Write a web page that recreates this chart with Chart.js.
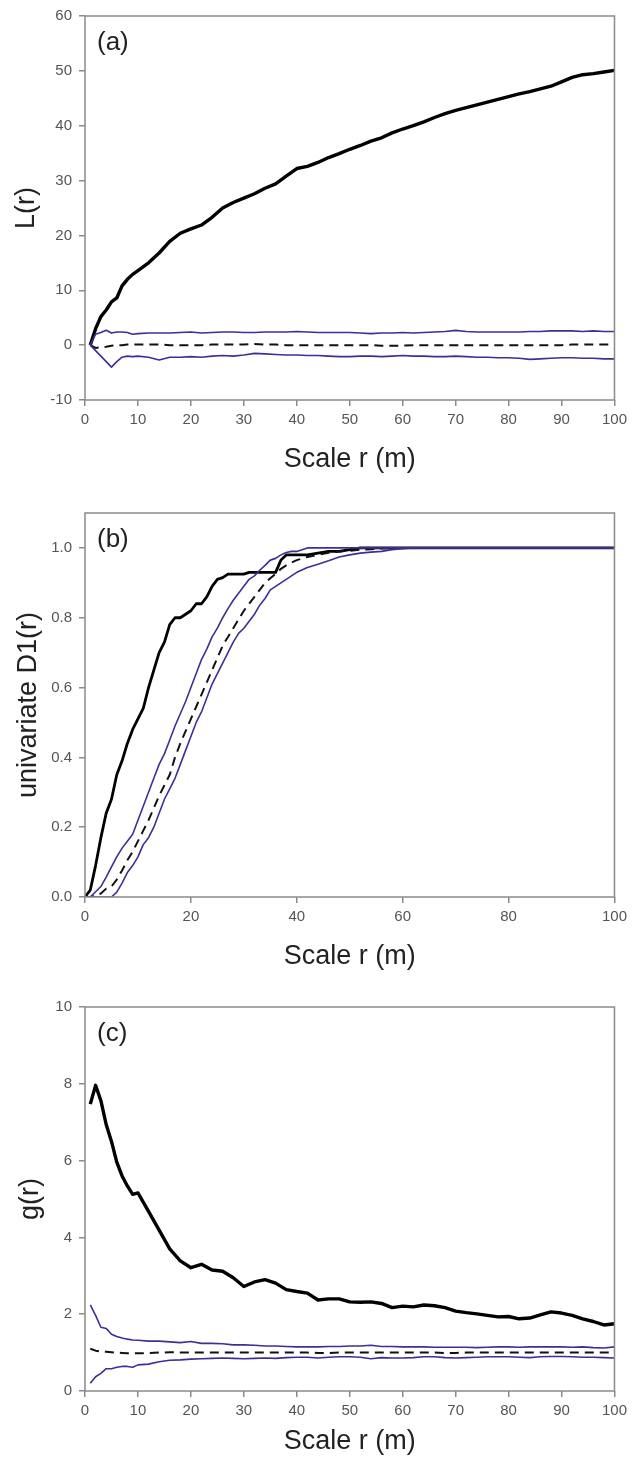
<!DOCTYPE html>
<html>
<head>
<meta charset="utf-8">
<script src="https://cdn.jsdelivr.net/npm/chart.js@4.4.0/dist/chart.umd.min.js"></script>
<style>
  body { margin: 0; background: #fff; }
  .panel { position: absolute; left: 0; width: 632px; }
</style>
</head>
<body>
<div class="panel" style="top:0;height:490px"><canvas id="chartA"></canvas></div>
<div class="panel" style="top:490px;height:490px"><canvas id="chartB"></canvas></div>
<div class="panel" style="top:980px;height:484px"><canvas id="chartC"></canvas></div>
<script>
// (a) L(r)  -- r grid shared by the 4 lines
const rA = [1, 2, 3, 4, 5, 6, 7, 8, 9, 10, 12, 14, 16, 18, 20, 22, 24, 26, 28, 30, 32, 34, 36, 38, 40, 42, 44, 46, 48, 50,
  52, 54, 56, 58, 60, 62, 64, 66, 68, 70, 72, 74, 76, 78, 80, 82, 84, 86, 88, 90, 92, 94, 96, 98, 100];
const lObs = [0, 3.0, 5.2, 6.4, 7.9, 8.6, 10.8, 12.0, 12.9, 13.6, 15.0, 16.8, 18.9, 20.4, 21.2, 21.9, 23.3, 25.0, 26.0, 26.8,
  27.6, 28.6, 29.4, 30.8, 32.2, 32.6, 33.3, 34.2, 34.9, 35.7, 36.4, 37.2, 37.8, 38.7, 39.4, 40.0, 40.7, 41.5, 42.2, 42.8,
  43.3, 43.8, 44.3, 44.8, 45.3, 45.8, 46.2, 46.7, 47.2, 48.0, 48.8, 49.3, 49.5, 49.8, 50.1];
const lUp = [0, 2.0, 2.3, 2.7, 2.2, 2.4, 2.4, 2.3, 2.0, 2.1, 2.2, 2.2, 2.2, 2.3, 2.4, 2.2, 2.3, 2.4, 2.4, 2.3,
  2.3, 2.4, 2.4, 2.4, 2.5, 2.4, 2.3, 2.3, 2.3, 2.3, 2.2, 2.1, 2.2, 2.2, 2.3, 2.2, 2.3, 2.4, 2.5, 2.7,
  2.5, 2.4, 2.4, 2.4, 2.4, 2.4, 2.5, 2.5, 2.6, 2.6, 2.6, 2.5, 2.6, 2.5, 2.5];
const lLo = [0, -1.0, -2.0, -3.0, -4.0, -3.0, -2.2, -2.0, -2.1, -2.0, -2.2, -2.7, -2.2, -2.2, -2.1, -2.2, -2.0, -1.9, -2.0, -1.8,
  -1.5, -1.6, -1.7, -1.8, -1.8, -1.9, -1.9, -2.0, -2.1, -2.1, -2.0, -2.0, -2.1, -2.0, -1.9, -2.0, -2.0, -2.1, -2.1, -2.0,
  -2.1, -2.2, -2.2, -2.3, -2.3, -2.4, -2.6, -2.5, -2.4, -2.3, -2.3, -2.4, -2.4, -2.5, -2.5];
const lMean = [0, -0.5, -0.4, -0.3, -0.1, 0, 0, 0.1, 0.1, 0.1, 0.1, 0.1, 0, 0, 0, 0, 0.1, 0.1, 0.1, 0.1,
  0.2, 0.1, 0.1, 0, 0, 0, 0, 0, 0, 0, 0, 0, -0.1, -0.1, -0.1, 0, 0, 0, 0, 0,
  0, 0, 0, 0, 0, 0, 0, 0, 0, 0, 0.1, 0.1, 0.1, 0.1, 0.1];

// (b) univariate D1(r)
const rB = [0, 1, 2, 3, 4, 5, 6, 7, 8, 9, 10, 11, 12, 13, 14, 15, 16, 17, 18, 19, 20, 21, 22, 23, 24, 25, 26, 27, 28, 29,
  30, 31, 32, 33, 34, 35, 36, 37, 38, 39, 40, 42, 44, 46, 48, 50, 52, 54, 56, 58, 60, 62, 70, 80, 90, 100];
const dObs = [0, 0.02, 0.09, 0.17, 0.24, 0.28, 0.35, 0.39, 0.44, 0.48, 0.51, 0.54, 0.60, 0.65, 0.70, 0.73, 0.78, 0.80, 0.80, 0.81,
  0.82, 0.84, 0.84, 0.86, 0.89, 0.91, 0.915, 0.925, 0.925, 0.925, 0.925, 0.93, 0.93, 0.93, 0.93, 0.93, 0.93, 0.965, 0.98, 0.98,
  0.98, 0.98, 0.985, 0.99, 0.99, 0.995, 1, 1, 1, 1, 1, 1, 1, 1, 1, 1];
const dUp = [0, 0, 0.015, 0.03, 0.057, 0.086, 0.115, 0.14, 0.16, 0.18, 0.22, 0.26, 0.30, 0.34, 0.38, 0.41, 0.45, 0.49, 0.525, 0.56,
  0.60, 0.64, 0.68, 0.71, 0.745, 0.77, 0.80, 0.826, 0.85, 0.87, 0.89, 0.91, 0.92, 0.936, 0.95, 0.965, 0.97, 0.98, 0.987, 0.99,
  0.99, 1, 1, 1, 1, 1, 1, 1, 1, 1, 1, 1, 1, 1, 1, 1];
const dMean = [0, 0, 0.005, 0.01, 0.024, 0.03, 0.05, 0.076, 0.105, 0.13, 0.16, 0.19, 0.22, 0.255, 0.29, 0.32, 0.35, 0.40, 0.44, 0.475,
  0.51, 0.545, 0.58, 0.615, 0.65, 0.685, 0.72, 0.745, 0.77, 0.795, 0.82, 0.84, 0.86, 0.88, 0.90, 0.913, 0.926, 0.94, 0.95, 0.958,
  0.965, 0.974, 0.98, 0.986, 0.99, 0.992, 0.995, 0.996, 0.998, 0.999, 1, 1, 1, 1, 1, 1];
const dLo = [0, 0, 0, 0, 0, 0, 0.014, 0.04, 0.07, 0.09, 0.115, 0.15, 0.17, 0.20, 0.24, 0.28, 0.31, 0.34, 0.38, 0.42,
  0.46, 0.50, 0.53, 0.57, 0.61, 0.64, 0.67, 0.70, 0.73, 0.755, 0.77, 0.79, 0.81, 0.836, 0.855, 0.88, 0.89, 0.90, 0.91, 0.92,
  0.93, 0.944, 0.953, 0.963, 0.974, 0.98, 0.985, 0.988, 0.99, 0.995, 0.998, 1, 1, 1, 1, 1];

// (c) g(r)
const rC = rA;
const gObs = [7.47, 7.96, 7.56, 6.94, 6.5, 5.96, 5.6, 5.34, 5.12, 5.16, 4.68, 4.19, 3.7, 3.39, 3.21, 3.3, 3.15, 3.12, 2.95, 2.72,
  2.84, 2.90, 2.81, 2.64, 2.59, 2.55, 2.37, 2.40, 2.40, 2.32, 2.31, 2.32, 2.28, 2.17, 2.21, 2.19, 2.24, 2.22, 2.17, 2.08,
  2.04, 2.01, 1.97, 1.93, 1.94, 1.88, 1.90, 1.98, 2.06, 2.03, 1.97, 1.88, 1.81, 1.72, 1.75];
const gUp = [2.24, 1.97, 1.66, 1.63, 1.48, 1.42, 1.38, 1.35, 1.33, 1.32, 1.30, 1.30, 1.28, 1.26, 1.29, 1.24, 1.24, 1.23, 1.20, 1.20,
  1.19, 1.17, 1.17, 1.16, 1.15, 1.15, 1.15, 1.16, 1.16, 1.17, 1.17, 1.19, 1.16, 1.16, 1.15, 1.15, 1.15, 1.14, 1.14, 1.14,
  1.14, 1.13, 1.14, 1.15, 1.15, 1.14, 1.15, 1.15, 1.15, 1.15, 1.14, 1.15, 1.13, 1.12, 1.15];
const gMean = [1.10, 1.05, 1.03, 1.02, 1.01, 1.0, 0.99, 0.98, 0.98, 0.98, 0.99, 1.0, 1.01, 1.0, 1.0, 1.0, 1.0, 1.0, 1.0, 1.0,
  1.0, 1.0, 1.0, 1.0, 1.0, 1.0, 0.99, 0.99, 1.0, 1.0, 1.0, 1.0, 1.0, 1.0, 1.0, 1.0, 1.0, 1.0, 0.99, 0.99,
  1.0, 1.0, 1.0, 1.0, 1.0, 1.0, 1.0, 1.0, 1.0, 1.0, 1.0, 1.0, 1.0, 1.0, 1.0];
const gLo = [0.2, 0.37, 0.46, 0.58, 0.58, 0.62, 0.64, 0.64, 0.62, 0.68, 0.70, 0.76, 0.80, 0.81, 0.83, 0.84, 0.85, 0.86, 0.85, 0.84,
  0.85, 0.86, 0.85, 0.87, 0.88, 0.88, 0.86, 0.88, 0.89, 0.89, 0.88, 0.84, 0.87, 0.86, 0.86, 0.87, 0.89, 0.89, 0.87, 0.86,
  0.87, 0.88, 0.89, 0.89, 0.89, 0.88, 0.87, 0.89, 0.90, 0.90, 0.89, 0.88, 0.88, 0.87, 0.86];

const BLUE = '#3f2e96';
const AXIS = '#8a8a8a';
const TICK_TXT = '#555';
const TITLE_TXT = '#222';
Chart.defaults.font.family = '"Liberation Sans", Arial, sans-serif';

function pts(xs, ys) {
  return xs.map((x, i) => ({ x: x, y: ys[i] }));
}

function line(xs, ys, color, width, dash) {
  return {
    data: pts(xs, ys),
    borderColor: color,
    borderWidth: width,
    borderDash: dash || [],
    pointRadius: 0,
    tension: 0,
    fill: false,
    borderJoinStyle: 'round'
  };
}

// box around the plot + the panel letter
const framePlugin = {
  id: 'frame',
  afterDraw(chart, args, opts) {
    const { ctx, chartArea: a } = chart;
    ctx.save();
    ctx.strokeStyle = AXIS;
    ctx.lineWidth = 1.5;
    ctx.strokeRect(a.left, a.top, a.right - a.left, a.bottom - a.top);
    ctx.fillStyle = TITLE_TXT;
    ctx.font = '26px "Liberation Sans", Arial, sans-serif';
    ctx.textBaseline = 'middle';
    ctx.fillText(opts.letter, a.left + 12, a.top + 27);
    ctx.restore();
  }
};

function makePanel(id, p) {
  return new Chart(document.getElementById(id), {
    type: 'line',
    data: {
      datasets: [
        line(p.r, p.up, BLUE, 1.6),
        line(p.r, p.lo, BLUE, 1.6),
        line(p.r, p.mean, '#111', 2, [9, 6]),
        line(p.r, p.obs, '#000', p.obsWidth)
      ]
    },
    options: {
      responsive: true,
      maintainAspectRatio: false,
      animation: false,
      layout: { padding: { top: p.top, right: 14, left: 0, bottom: 0 } },
      plugins: {
        legend: { display: false },
        tooltip: { enabled: false },
        frame: { letter: p.letter }
      },
      scales: {
        x: {
          type: 'linear', min: 0, max: 100,
          ticks: { stepSize: p.xStep, color: TICK_TXT, font: { size: 15 }, padding: 5, maxRotation: 0, autoSkip: false },
          grid: { drawOnChartArea: false, tickLength: 6, color: AXIS, lineWidth: 1.5 },
          border: { display: false },
          title: { display: true, text: 'Scale r (m)', color: TITLE_TXT, font: { size: 27 }, padding: { top: 0, bottom: p.xTitlePad } },
          afterFit: (s) => { s.height = p.xH; }
        },
        y: {
          min: p.yMin, max: p.yMax,
          ticks: { stepSize: p.yStep, includeBounds: false, color: TICK_TXT, font: { size: 15 }, padding: 7,
            callback: p.yFmt || ((v) => v) },
          grid: { drawOnChartArea: false, tickLength: 6, color: AXIS, lineWidth: 1.5 },
          border: { display: false },
          title: { display: true, text: p.yTitle, color: TITLE_TXT, font: { size: 27 }, padding: { top: p.yTitlePad, bottom: 0 } },
          afterFit: (s) => { s.width = 85; }
        }
      }
    },
    plugins: [framePlugin]
  });
}

makePanel('chartA', {
  r: rA, obs: lObs, up: lUp, lo: lLo, mean: lMean, obsWidth: 3.4, letter: '(a)',
  top: 15, xH: 90, xTitlePad: 14, xStep: 10,
  yMin: -10, yMax: 60, yStep: 10, yTitle: 'L(r)', yTitlePad: 10
});

makePanel('chartB', {
  r: rB, obs: dObs, up: dUp, lo: dLo, mean: dMean, obsWidth: 2.8, letter: '(b)',
  top: 23, xH: 83, xTitlePad: 7, xStep: 20,
  yMin: 0, yMax: 1.1, yStep: 0.2, yTitle: 'univariate D1(r)', yTitlePad: 12,
  yFmt: (v) => v.toFixed(1)
});

makePanel('chartC', {
  r: rC, obs: gObs, up: gUp, lo: gLo, mean: gMean, obsWidth: 3.4, letter: '(c)',
  top: 27, xH: 73, xTitlePad: 6, xStep: 10,
  yMin: 0, yMax: 10, yStep: 2, yTitle: 'g(r)', yTitlePad: 14
});
</script>
</body>
</html>
